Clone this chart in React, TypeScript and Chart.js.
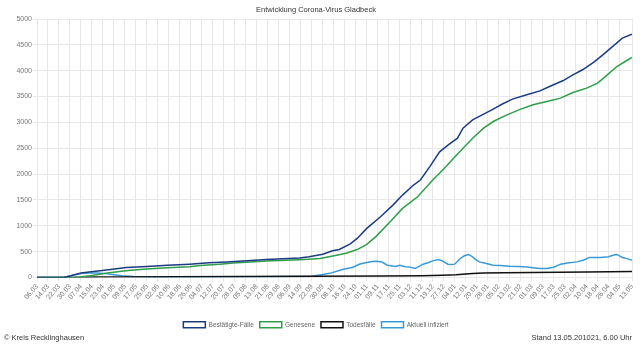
import React, { useEffect, useRef } from 'react';
import { Chart, registerables } from 'chart.js';

Chart.register(...registerables);

const FONT = "'Liberation Sans', Arial, Helvetica, sans-serif";

const chartTitle = 'Entwicklung Corona-Virus Gladbeck';
const footerLeft = '© Kreis Recklinghausen';
const footerRight = 'Stand 13.05.201021, 6.00 Uhr';

// x axis: day index since 06.03.2020 (last day 13.05.2021 = 433)
const xTickLabels = [
  '06.03', '14.03', '22.03', '30.03', '07.04', '15.04', '23.04', '01.05', '09.05', '17.05',
  '25.05', '02.06', '10.06', '18.06', '26.06', '04.07', '12.07', '20.07', '28.07', '05.08',
  '13.08', '21.08', '29.08', '06.09', '14.09', '22.09', '30.09', '08.10', '16.10', '24.10',
  '01.11', '09.11', '17.11', '25.11', '03.12', '11.12', '19.12', '27.12', '04.01', '12.01',
  '20.01', '28.01', '05.02', '13.02', '21.02', '01.03', '09.03', '17.03', '25.03', '02.04',
  '10.04', '18.04', '26.04', '04.05', '13.05',
];
const xTickDays = [
  0, 8, 16, 24, 32, 40, 48, 56, 64, 72, 80, 88, 96, 104, 112, 120, 128, 136, 144, 152,
  160, 168, 176, 184, 192, 200, 208, 216, 224, 232, 240, 248, 256, 264, 272, 280, 288, 296,
  304, 312, 320, 328, 336, 344, 352, 360, 368, 376, 384, 392, 400, 408, 416, 424, 433,
];
const lastDay = 433;

// Bestätigte-Fälle
const confirmedDays = [0, 15, 20, 24, 28, 32, 38, 46, 55, 65, 80, 95, 111, 125, 138, 150, 167, 191, 198, 208, 215, 220, 228, 233, 240, 250, 259, 266, 274, 279, 286, 293, 300, 306, 310, 317, 325, 332, 339, 346, 357, 366, 373, 383, 390, 397, 405, 412, 419, 426, 433];
const confirmedValues = [0, 2, 5, 30, 60, 85, 105, 130, 160, 195, 215, 235, 258, 285, 300, 320, 350, 378, 400, 451, 516, 543, 650, 756, 950, 1175, 1400, 1594, 1788, 1885, 2150, 2430, 2580, 2695, 2888, 3050, 3160, 3256, 3360, 3450, 3540, 3610, 3694, 3810, 3920, 4018, 4160, 4310, 4470, 4630, 4705];

// Genesene
const recoveredDays = [0, 26, 31, 40, 50, 60, 68, 80, 95, 111, 119, 133, 143, 167, 191, 206, 218, 225, 233, 240, 247, 257, 266, 277, 288, 296, 303, 310, 317, 325, 332, 342, 352, 361, 371, 381, 390, 400, 408, 415, 422, 428, 433];
const recoveredValues = [0, 0, 10, 40, 80, 115, 141, 165, 188, 210, 234, 258, 280, 320, 345, 368, 430, 470, 540, 640, 800, 1080, 1336, 1562, 1885, 2100, 2300, 2500, 2695, 2888, 3017, 3146, 3256, 3340, 3404, 3469, 3578, 3663, 3760, 3920, 4081, 4178, 4256];

// Todesfälle
const deathsDays = [0, 25, 35, 45, 60, 100, 150, 200, 250, 280, 295, 305, 312, 317, 325, 340, 360, 380, 400, 433];
const deathsValues = [0, 0, 3, 8, 12, 15, 18, 22, 28, 35, 45, 55, 68, 78, 85, 90, 95, 100, 106, 118];

// Aktuell infiziert
const activeDays = [0, 20, 24, 28, 32, 38, 44, 50, 56, 62, 70, 80, 100, 130, 160, 185, 195, 200, 208, 213, 223, 230, 235, 240, 244, 247, 251, 255, 261, 264, 268, 271, 275, 277, 281, 285, 288, 292, 295, 299, 302, 304, 308, 311, 314, 317, 319, 322, 327, 332, 337, 344, 350, 357, 361, 366, 371, 376, 381, 386, 393, 398, 402, 410, 416, 419, 422, 426, 430, 433];
const activeValues = [0, 5, 30, 55, 75, 85, 88, 75, 55, 35, 20, 12, 10, 10, 15, 20, 20, 25, 60, 80, 160, 200, 260, 290, 310, 316, 300, 238, 215, 238, 210, 205, 174, 200, 258, 290, 322, 349, 322, 258, 250, 258, 368, 420, 446, 400, 350, 302, 270, 238, 230, 219, 215, 205, 190, 174, 174, 200, 258, 280, 302, 340, 388, 388, 400, 430, 446, 388, 360, 335];

const toPoints = (xs: number[], ys: number[]) => xs.map((x, i) => ({ x, y: ys[i] }));

export default function App() {
  const ref = useRef<HTMLCanvasElement>(null);

  useEffect(() => {
    if (!ref.current) return;
    const mk = (label: string, xs: number[], ys: number[], color: string) => ({
      label,
      data: toPoints(xs, ys),
      borderColor: color,
      backgroundColor: '#ffffff',
      borderWidth: 1.5,
      pointRadius: 0,
      tension: 0,
      fill: false,
    });
    const tickFont = { family: FONT, size: 7 };
    const chart = new Chart(ref.current, {
      type: 'line',
      data: {
        datasets: [
          mk('Bestätigte-Fälle', confirmedDays, confirmedValues, '#1c3c82'),
          mk('Genesene', recoveredDays, recoveredValues, '#2e9e4a'),
          mk('Todesfälle', deathsDays, deathsValues, '#111111'),
          mk('Aktuell infiziert', activeDays, activeValues, '#3a9ad9'),
        ],
      },
      options: {
        responsive: false,
        animation: false,
        layout: { padding: { left: 0, right: 8, top: 0, bottom: 0 } },
        plugins: {
          title: {
            display: true,
            text: chartTitle,
            color: '#333333',
            font: { family: FONT, size: 7.5, weight: 'normal' },
            padding: { top: 5, bottom: 5 },
          },
          legend: {
            position: 'bottom',
            labels: {
              boxWidth: 22,
              boxHeight: 6,
              padding: 6,
              color: '#666666',
              font: { family: FONT, size: 6.5 },
            },
          },
          tooltip: { enabled: false },
        },
        scales: {
          x: {
            type: 'linear',
            min: 0,
            max: lastDay,
            afterBuildTicks: (s: any) => {
              s.ticks = xTickDays.map((v) => ({ value: v }));
            },
            afterFit: (s: any) => {
              s.height = 38;
            },
            ticks: {
              autoSkip: false,
              minRotation: 50,
              maxRotation: 50,
              color: '#777777',
              font: tickFont,
              padding: 1,
              callback: (_v: any, i: number) => xTickLabels[i],
            },
            grid: { color: '#e8e8e8', tickLength: 4 },
            border: { color: '#e8e8e8' },
          },
          y: {
            min: 0,
            max: 5000,
            afterFit: (s: any) => {
              s.width = 37;
            },
            ticks: {
              stepSize: 500,
              color: '#777777',
              font: tickFont,
              padding: 1,
              callback: (v: any) => String(v),
            },
            grid: { color: '#e8e8e8', tickLength: 4 },
            border: { color: '#e8e8e8' },
          },
        },
      },
    } as any);
    return () => chart.destroy();
  }, []);

  const footStyle: React.CSSProperties = {
    position: 'absolute',
    top: 333,
    fontFamily: FONT,
    fontSize: 7.5,
    color: '#333333',
    lineHeight: '10px',
    whiteSpace: 'nowrap',
  };

  return (
    <div style={{ position: 'absolute', left: 0, top: 0, width: 640, height: 351, background: '#ffffff', overflow: 'hidden' }}>
      <canvas ref={ref} width={640} height={338} style={{ display: 'block', position: 'absolute', left: 0, top: 0 }} />
      <div style={{ ...footStyle, left: 4 }}>{footerLeft}</div>
      <div style={{ ...footStyle, right: 8, textAlign: 'right' }}>{footerRight}</div>
    </div>
  );
}
